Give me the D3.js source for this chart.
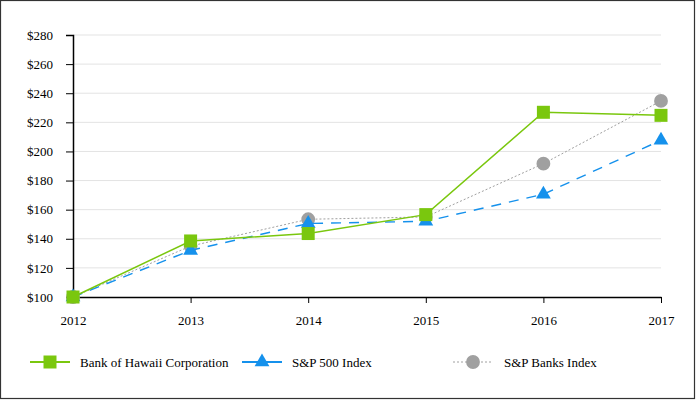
<!DOCTYPE html>
<html><head><meta charset="utf-8">
<script src="https://cdn.jsdelivr.net/npm/d3@7"></script>
<style>body{margin:0;background:#fff}svg{display:block}svg text{font-family:"Liberation Serif","Times New Roman","DejaVu Serif",serif !important}</style>
</head><body>
<script>
const years = ["2012","2013","2014","2015","2016","2017"];
const bankOfHawaii = [100, 138.5, 143.6, 156.6, 226.9, 224.8];
const sp500 = [100, 132, 150.5, 152, 170.6, 207.7];
const spBanks = [100, 135, 153.4, 155, 191.6, 234.7];
const yTicks = [100,120,140,160,180,200,220,240,260,280];

const W=696,H=400;
const svg=d3.select("body").append("svg").attr("width",W).attr("height",H);
svg.append("rect").attr("x",0.5).attr("y",0.5).attr("width",W-2).attr("height",H-2)
  .attr("fill","#fff").attr("stroke","#333").attr("stroke-width",1.2);

const x=d3.scalePoint().domain(years).range([73,661]);
const y=d3.scaleLinear().domain([100,280]).range([297,35]);
const font='"Liberation Serif","Times New Roman",serif';

// grid
svg.append("g").selectAll("line").data(yTicks.slice(1)).join("line")
  .attr("x1",73).attr("x2",661).attr("y1",d=>y(d)).attr("y2",d=>y(d))
  .attr("stroke","#e3e3e3").attr("stroke-width",1);

const ya=svg.append("g").attr("transform","translate(73,0)")
  .call(d3.axisLeft(y).tickValues(yTicks).tickSize(7).tickPadding(13).tickFormat(d=>"$"+d));
ya.attr("font-family",null);
ya.select(".domain").attr("stroke","#000").attr("stroke-width",1.5);
ya.selectAll("line").attr("stroke","#000");
ya.selectAll("text").style("font-family",font).style("font-size","13px").attr("fill","#000");

const xa=svg.append("g").attr("transform","translate(0,297)")
  .call(d3.axisBottom(x).tickSize(6).tickPadding(13).tickSizeOuter(0));
xa.attr("font-family",null);
xa.select(".domain").attr("stroke","#000").attr("stroke-width",1.5);
xa.selectAll("line").attr("stroke","#000");
xa.selectAll("text").style("font-family",font).style("font-size","13px").attr("fill","#000");

const series=[
  {name:"S&P Banks Index",vals:spBanks,color:"#a0a0a0",dash:"2,2",w:1,sym:d3.symbolCircle,size:150,lx:453,tx:504},
  {name:"S&P 500 Index",vals:sp500,color:"#1591ec",dash:"10,8",w:1.4,sym:d3.symbolTriangle,size:95,lx:242,tx:292},
  {name:"Bank of Hawaii Corporation",vals:bankOfHawaii,color:"#7ac70e",dash:null,w:1.5,sym:d3.symbolSquare,size:169,lx:30,tx:80}
];
const line=d3.line().x((d,i)=>x(years[i])).y(d=>y(d));
series.forEach(s=>{
  const g=svg.append("g");
  g.append("path").attr("d",line(s.vals)).attr("fill","none").attr("stroke",s.color)
    .attr("stroke-width",s.w).attr("stroke-dasharray",s.dash);
  g.selectAll("path.m").data(s.vals).join("path").attr("class","m")
    .attr("transform",(d,i)=>`translate(${x(years[i])},${y(d)})`)
    .attr("d",d3.symbol(s.sym,s.size)).attr("fill",s.color);
});
// legend
const ly=362;
[series[2],series[1],series[0]].forEach(s=>{
  const g=svg.append("g");
  g.append("line").attr("x1",s.lx).attr("x2",s.lx+40).attr("y1",ly).attr("y2",ly)
    .attr("stroke",s.color).attr("stroke-width",s.dash==="2,2"?1:2).attr("stroke-dasharray",s.dash==="2,2"?"2,2":null);
  g.append("path").attr("transform",`translate(${s.lx+20},${ly})`).attr("d",d3.symbol(s.sym,s.size)).attr("fill",s.color);
  g.append("text").attr("x",s.tx).attr("y",ly+4.5).style("font-family",font).style("font-size","13px").text(s.name);
});
</script>
</body></html>
